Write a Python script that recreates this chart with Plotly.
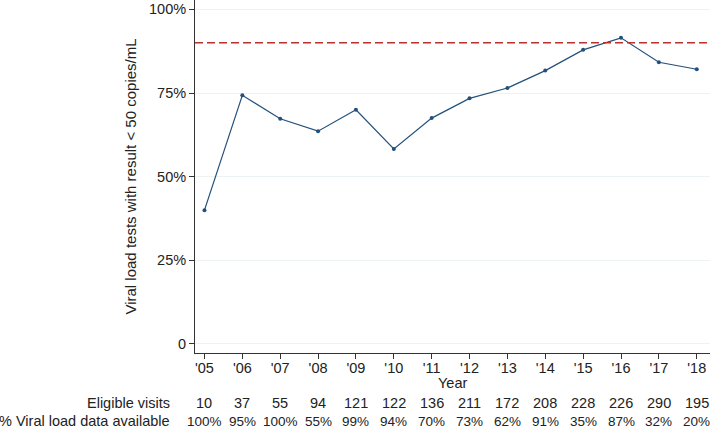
import plotly.graph_objects as go

years = list(range(2005, 2019))
year_labels = ["'05", "'06", "'07", "'08", "'09", "'10", "'11", "'12", "'13", "'14", "'15", "'16", "'17", "'18"]
suppressed_pct = [40.0, 74.3, 67.3, 63.6, 70.0, 58.3, 67.5, 73.4, 76.5, 81.7, 87.9, 91.5, 84.2, 82.1]
eligible_visits = [10, 37, 55, 94, 121, 122, 136, 211, 172, 208, 228, 226, 290, 195]
vl_available = [100, 95, 100, 55, 99, 94, 70, 73, 62, 91, 35, 87, 32, 20]
target_pct = 90

y_ticks = [0, 25, 50, 75, 100]
y_tick_labels = ["0", "25%", "50%", "75%", "100%"]

NAVY = "#23507a"
RED = "#b8312f"
TEXT = "#222222"
FONT = "Liberation Sans, Arial, Helvetica, sans-serif"

fig = go.Figure()
fig.add_trace(
    go.Scatter(
        x=years,
        y=suppressed_pct,
        mode="lines+markers",
        line=dict(color=NAVY, width=1.2),
        marker=dict(color=NAVY, size=4),
        showlegend=False,
        hoverinfo="x+y",
    )
)
fig.add_hline(y=target_pct, line=dict(color=RED, width=1.5, dash="8px,4px"))

# table under the x axis
rows = [
    ("Eligible visits", [str(v) for v in eligible_visits], -50, 14.5),
    ("% Viral load data available", [f"{v}%" for v in vl_available], -68, 13.5),
]
for label, cells, shift, size in rows:
    fig.add_annotation(
        x=0, y=0, xref="paper", yref="paper", text=label, showarrow=False,
        xanchor="right", yanchor="middle", xshift=-23, yshift=shift,
        font=dict(size=14.5, color=TEXT),
    )
    for yr, txt in zip(years, cells):
        fig.add_annotation(
            x=yr, y=0, xref="x", yref="paper", text=txt, showarrow=False,
            xanchor="center", yanchor="middle", yshift=shift,
            font=dict(size=size, color=TEXT),
        )

fig.add_annotation(
    x=0.5, y=0, xref="paper", yref="paper", text="Year", showarrow=False,
    xanchor="center", yanchor="middle", yshift=-30,
    font=dict(size=14.5, color=TEXT),
)

fig.update_xaxes(
    range=[2004.75, 2018.35],
    tickvals=years,
    ticktext=year_labels,
    ticks="outside",
    ticklen=5,
    tickcolor="#333333",
    ticklabelstandoff=-3,
    showline=True,
    linecolor="#333333",
    linewidth=1,
    showgrid=False,
    zeroline=False,
    tickfont=dict(size=14.5, color=TEXT),
)
fig.update_yaxes(
    range=[-2.7, 102.8],
    tickvals=y_ticks,
    ticktext=y_tick_labels,
    ticks="outside",
    ticklen=5,
    tickcolor="#333333",
    showline=True,
    linecolor="#333333",
    linewidth=1,
    showgrid=True,
    gridcolor="#edf3f5",
    gridwidth=1,
    zeroline=False,
    tickfont=dict(size=14.5, color=TEXT),
    title=dict(
        text="Viral load tests with result < 50 copies/mL",
        font=dict(size=15, color=TEXT),
        standoff=8,
    ),
)
fig.update_layout(
    width=713,
    height=430,
    margin=dict(l=195, r=3, t=0, b=77),
    paper_bgcolor="white",
    plot_bgcolor="white",
    font=dict(family=FONT, color=TEXT),
)

fig.write_html(
    "out.html",
    config={"displayModeBar": False},
    post_script="document.body.style.margin = '0';",
)
